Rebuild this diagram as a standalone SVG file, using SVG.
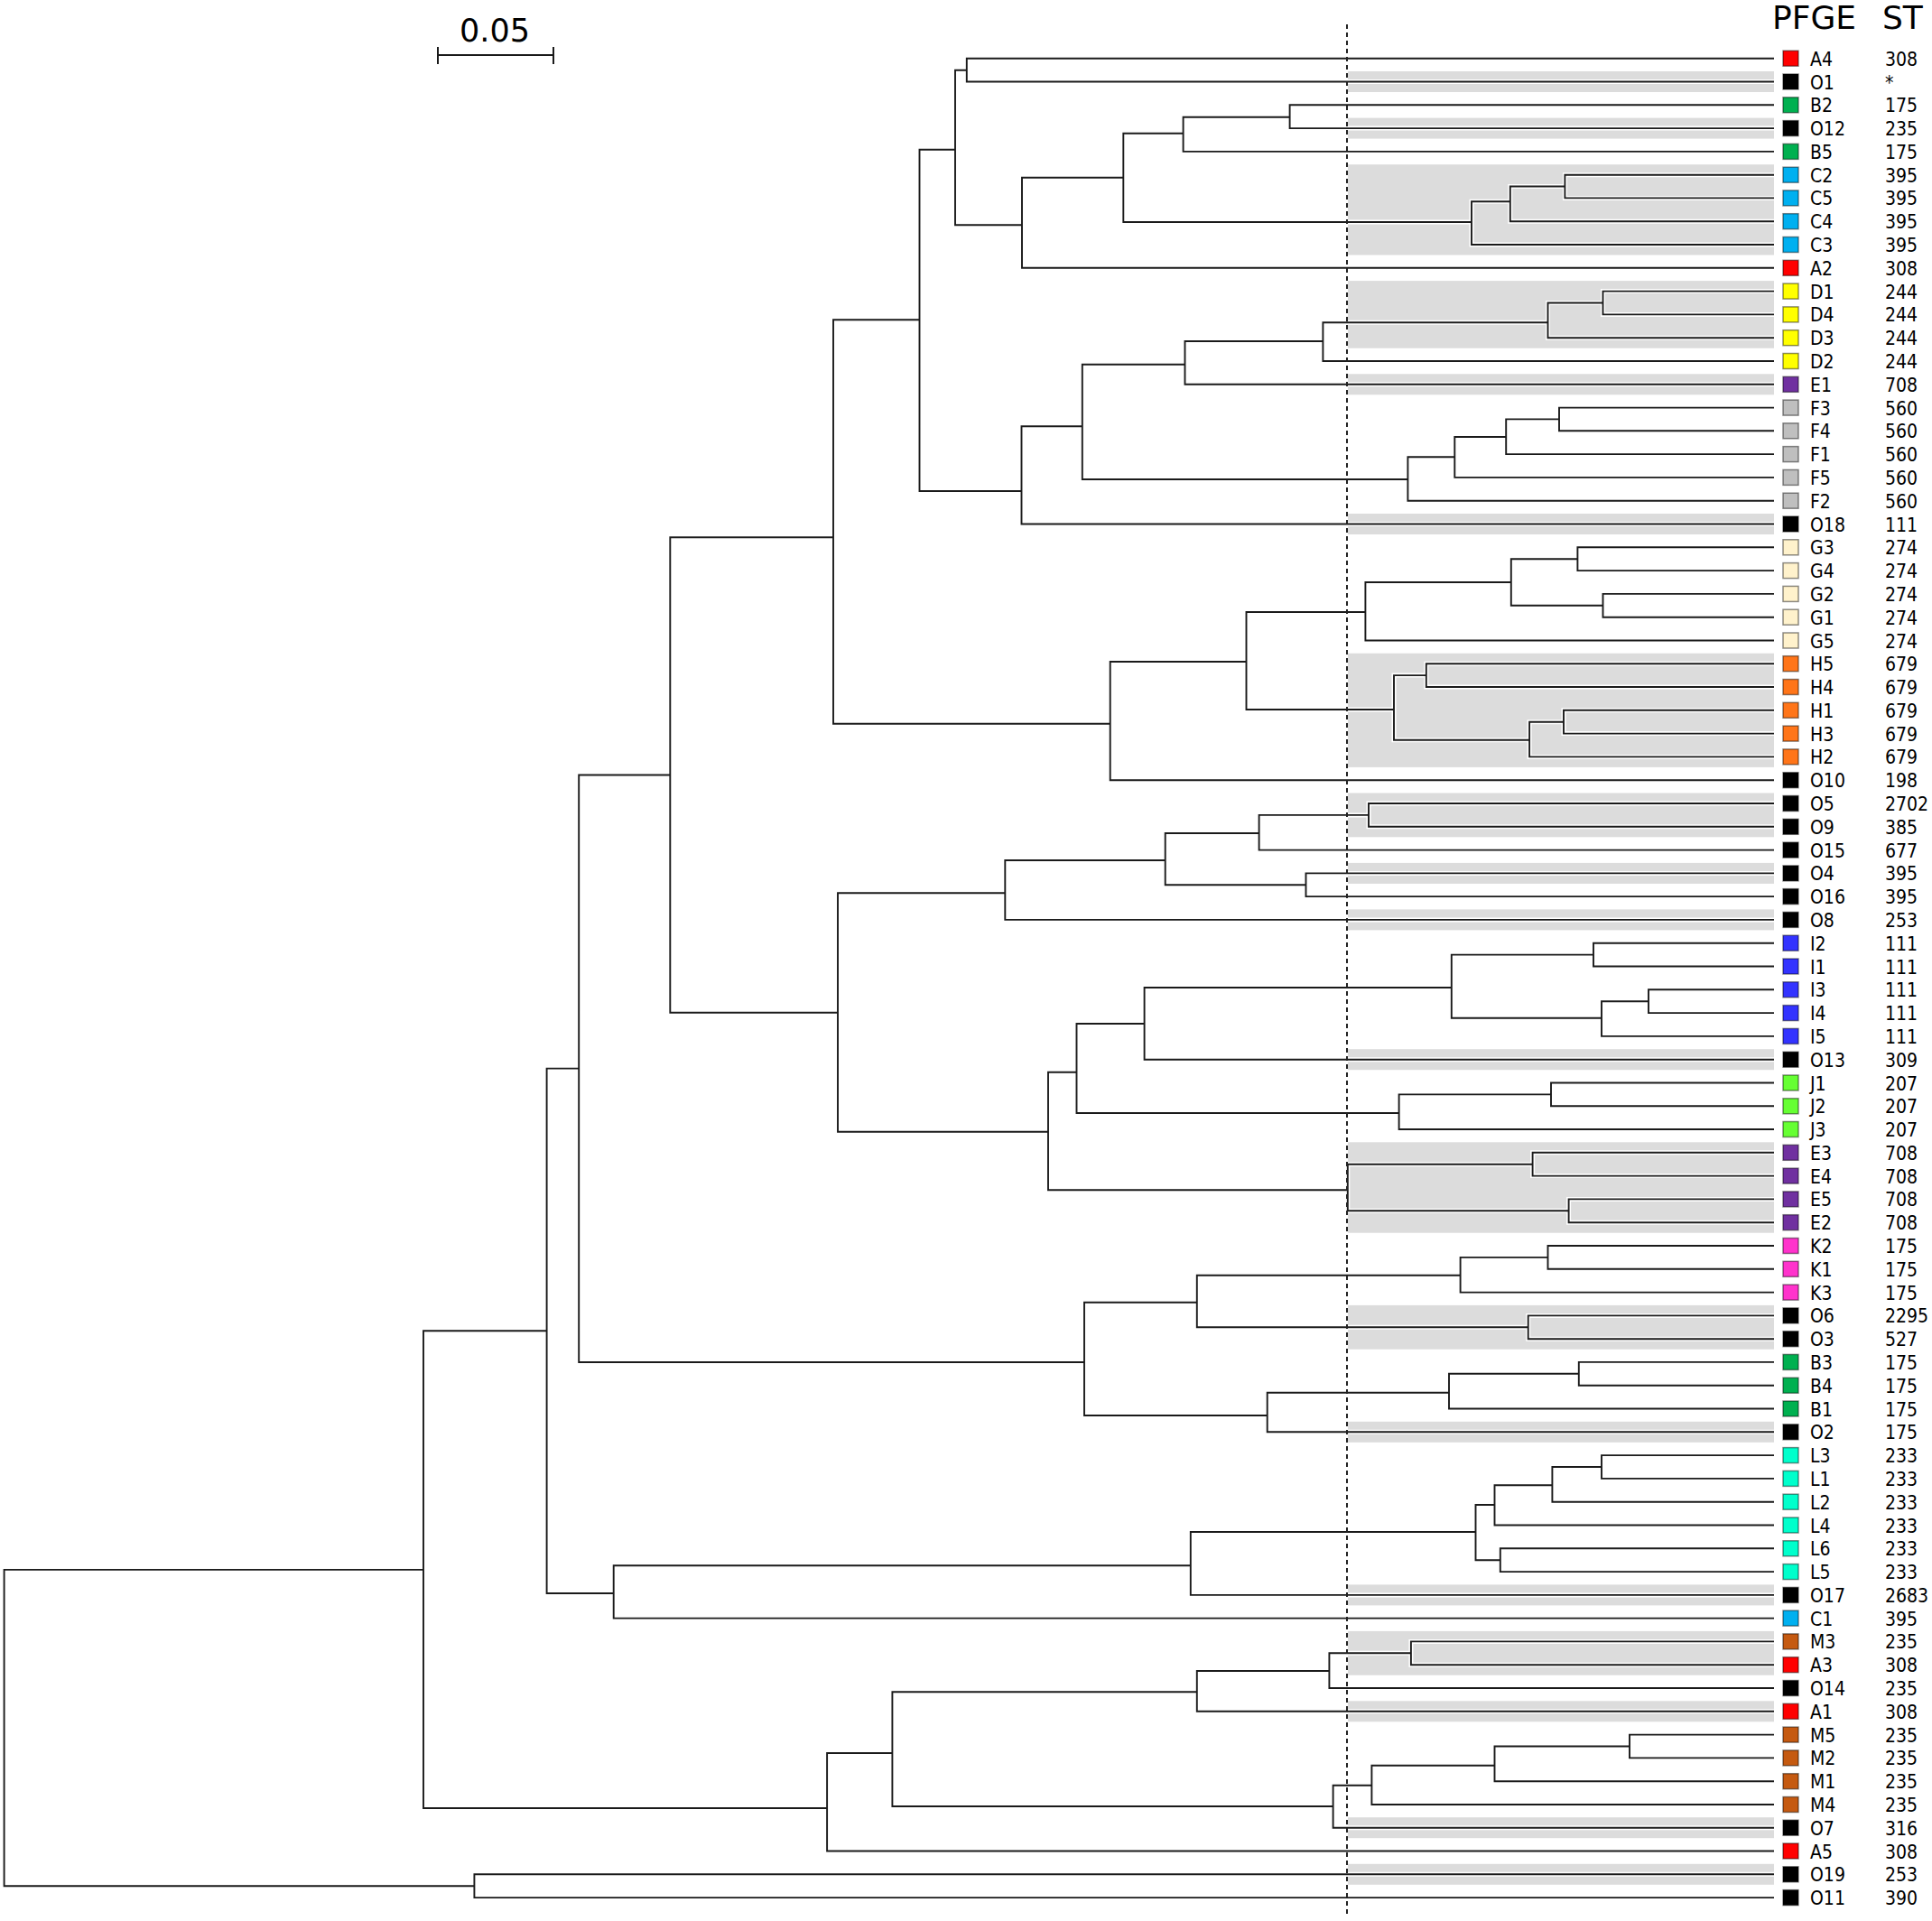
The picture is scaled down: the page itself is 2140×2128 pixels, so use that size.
<svg xmlns="http://www.w3.org/2000/svg" width="2140" height="2128" viewBox="0 0 2140 2128">
<style>
.bg{fill:#ffffff}
.band{fill:#dcdcdc}
.halo path{fill:none;stroke:#ffffff;stroke-width:5}
.tree path{fill:none;stroke:#1a1a1a;stroke-width:1.9}
.dot{fill:none;stroke:#222;stroke-width:2;stroke-dasharray:5 4}
.sq{stroke:#000;stroke-opacity:0.45;stroke-width:1.5}
.lb{font-family:"DejaVu Sans Condensed","DejaVu Sans",sans-serif;font-stretch:condensed;font-size:21px;fill:#000}
.hd{font-family:"DejaVu Sans",sans-serif;font-size:36px;fill:#000}
.sc{font-family:"DejaVu Sans",sans-serif;font-size:35px;fill:#000}
.cA{fill:#ff0000}.cO{fill:#000000}.cB{fill:#00b050}.cC{fill:#00b0f0}.cD{fill:#ffff00}.cE{fill:#7030a0}.cF{fill:#bfbfbf}.cG{fill:#fff2cc}.cH{fill:#ff7519}.cI{fill:#3333ff}.cJ{fill:#66ff33}.cK{fill:#ff33cc}.cL{fill:#00ffcc}.cM{fill:#c55a11}
</style>
<defs>
<g id="dummy"/>
</defs>
<rect class="bg" x="0" y="0" width="2140" height="2128"/>
<g id="scale-bar">
<text class="sc" x="548" y="45.7" text-anchor="middle">0.05</text>
<path d="M485,61 H613 M485,52 V71 M613,52 V71" fill="none" stroke="#1a1a1a" stroke-width="2"/>
</g>
<g id="headers">
<text class="hd" x="1963" y="32.3">PFGE</text>
<text class="hd" x="2085" y="32.3">ST</text>
</g>
<g id="bands">
<rect class="band" x="1493" y="79" width="472" height="23"/>
<rect class="band" x="1493" y="130.6" width="472" height="23"/>
<rect class="band" x="1493" y="182.2" width="472" height="100.3"/>
<rect class="band" x="1493" y="311.1" width="472" height="74.6"/>
<rect class="band" x="1493" y="414.3" width="472" height="23"/>
<rect class="band" x="1493" y="569" width="472" height="23"/>
<rect class="band" x="1493" y="723.7" width="472" height="126.2"/>
<rect class="band" x="1493" y="878.5" width="472" height="48.8"/>
<rect class="band" x="1493" y="955.9" width="472" height="23"/>
<rect class="band" x="1493" y="1007.4" width="472" height="23"/>
<rect class="band" x="1493" y="1162.2" width="472" height="23"/>
<rect class="band" x="1493" y="1265.3" width="472" height="100.4"/>
<rect class="band" x="1493" y="1445.9" width="472" height="48.8"/>
<rect class="band" x="1493" y="1574.8" width="472" height="23"/>
<rect class="band" x="1493" y="1755.4" width="472" height="23"/>
<rect class="band" x="1493" y="1806.9" width="472" height="48.8"/>
<rect class="band" x="1493" y="1884.3" width="472" height="23"/>
<rect class="band" x="1493" y="2013.2" width="472" height="23"/>
<rect class="band" x="1493" y="2064.8" width="472" height="23"/>
</g>
<g id="connectors">
<g class="halo" id="tree-halo">
<path id="hp" d="M469,1738.9 H4.6 V2089.2 H525.4 M605.6,1474.3 H469 V2003 H916.1 M1965,2076.3 H525.4 V2102.1 H1965 M641.2,1183.6 H605.6 V1765 H679.7 M742.3,858.5 H641.2 V1509 H1201 M923,595.3 H742.3 V1121.7 H928 M1018.5,354.3 H923 V801.7 H1229.7 M1058,165.7 H1018.5 V544 H1131.5 M1070.8,77.7 H1058 V249.3 H1132 M1965,64.7 H1070.8 V90.5 H1965 M1244.3,196.7 H1132 V296.8 H1965 M1310.6,147.7 H1244.3 V246 H1630 M1428.6,129.7 H1310.6 V167.9 H1965 M1965,116.3 H1428.6 V142.1 H1965 M1672.8,223.3 H1630 V271 H1965 M1733.4,206.5 H1672.8 V245.2 H1965 M1965,193.7 H1733.4 V219.4 H1965 M1198.8,472.3 H1131.5 V580.5 H1965 M1312.5,403.7 H1198.8 V531 H1559.4 M1465.4,378 H1312.5 V425.8 H1965 M1714.5,357.3 H1465.4 V400 H1965 M1775.5,335.5 H1714.5 V374.2 H1965 M1965,322.6 H1775.5 V348.4 H1965 M1611.3,506.3 H1559.4 V554.7 H1965 M1668.2,484 H1611.3 V528.9 H1965 M1727,464.4 H1668.2 V503.1 H1965 M1965,451.6 H1727 V477.3 H1965 M1380.5,733 H1229.7 V864.2 H1965 M1512.4,678 H1380.5 V786 H1544 M1673.8,645 H1512.4 V709.5 H1965 M1747.4,619.2 H1673.8 V670.8 H1775.5 M1965,606.3 H1747.4 V632.1 H1965 M1965,657.9 H1775.5 V683.7 H1965 M1579.8,748.1 H1544 V819.7 H1694.1 M1965,735.2 H1579.8 V761 H1965 M1732,799.7 H1694.1 V838.4 H1965 M1965,786.8 H1732 V812.6 H1965 M1113.3,989.3 H928 V1253.7 H1161 M1290.7,953 H1113.3 V1018.9 H1965 M1394.6,923 H1290.7 V980.3 H1446.5 M1516,902.9 H1394.6 V941.6 H1965 M1965,890 H1516 V915.8 H1965 M1965,967.4 H1446.5 V993.1 H1965 M1192.5,1187.7 H1161 V1318.3 H1492.8 M1267.6,1134 H1192.5 V1233 H1549.6 M1607.8,1094 H1267.6 V1173.7 H1965 M1765,1057.6 H1607.8 V1127.7 H1774 M1965,1044.7 H1765 V1070.5 H1965 M1826,1109.2 H1774 V1147.9 H1965 M1965,1096.3 H1826 V1122.1 H1965 M1718,1212.4 H1549.6 V1251 H1965 M1965,1199.5 H1718 V1225.3 H1965 M1697.6,1289.7 H1492.8 V1341.3 H1737.6 M1965,1276.8 H1697.6 V1302.6 H1965 M1965,1328.4 H1737.6 V1354.2 H1965 M1325.8,1442.7 H1201 V1568 H1403.7 M1617.6,1412.7 H1325.8 V1470.3 H1692.7 M1714.5,1392.9 H1617.6 V1431.6 H1965 M1965,1380 H1714.5 V1405.8 H1965 M1965,1457.4 H1692.7 V1483.2 H1965 M1605,1542.7 H1403.7 V1586.3 H1965 M1748.8,1521.8 H1605 V1560.5 H1965 M1965,1508.9 H1748.8 V1534.7 H1965 M1318.8,1734.3 H679.7 V1792.6 H1965 M1634.5,1697 H1318.8 V1766.9 H1965 M1655.5,1667 H1634.5 V1728.2 H1661.8 M1719.4,1645.3 H1655.5 V1689.5 H1965 M1774,1625 H1719.4 V1663.7 H1965 M1965,1612.1 H1774 V1637.9 H1965 M1965,1715.3 H1661.8 V1741.1 H1965 M988.4,1942 H916.1 V2050.5 H1965 M1325.8,1874.3 H988.4 V2001 H1476.6 M1472.4,1851 H1325.8 V1895.8 H1965 M1562.9,1831.3 H1472.4 V1870 H1965 M1965,1818.4 H1562.9 V1844.2 H1965 M1519.4,1977.7 H1476.6 V2024.7 H1965 M1655.5,1955.7 H1519.4 V1999 H1965 M1805,1934.5 H1655.5 V1973.2 H1965 M1965,1921.6 H1805 V1947.4 H1965"/>
</g>
<g class="tree" id="tree-lines">
<path d="M469,1738.9 H4.6 V2089.2 H525.4 M605.6,1474.3 H469 V2003 H916.1 M1965,2076.3 H525.4 V2102.1 H1965 M641.2,1183.6 H605.6 V1765 H679.7 M742.3,858.5 H641.2 V1509 H1201 M923,595.3 H742.3 V1121.7 H928 M1018.5,354.3 H923 V801.7 H1229.7 M1058,165.7 H1018.5 V544 H1131.5 M1070.8,77.7 H1058 V249.3 H1132 M1965,64.7 H1070.8 V90.5 H1965 M1244.3,196.7 H1132 V296.8 H1965 M1310.6,147.7 H1244.3 V246 H1630 M1428.6,129.7 H1310.6 V167.9 H1965 M1965,116.3 H1428.6 V142.1 H1965 M1672.8,223.3 H1630 V271 H1965 M1733.4,206.5 H1672.8 V245.2 H1965 M1965,193.7 H1733.4 V219.4 H1965 M1198.8,472.3 H1131.5 V580.5 H1965 M1312.5,403.7 H1198.8 V531 H1559.4 M1465.4,378 H1312.5 V425.8 H1965 M1714.5,357.3 H1465.4 V400 H1965 M1775.5,335.5 H1714.5 V374.2 H1965 M1965,322.6 H1775.5 V348.4 H1965 M1611.3,506.3 H1559.4 V554.7 H1965 M1668.2,484 H1611.3 V528.9 H1965 M1727,464.4 H1668.2 V503.1 H1965 M1965,451.6 H1727 V477.3 H1965 M1380.5,733 H1229.7 V864.2 H1965 M1512.4,678 H1380.5 V786 H1544 M1673.8,645 H1512.4 V709.5 H1965 M1747.4,619.2 H1673.8 V670.8 H1775.5 M1965,606.3 H1747.4 V632.1 H1965 M1965,657.9 H1775.5 V683.7 H1965 M1579.8,748.1 H1544 V819.7 H1694.1 M1965,735.2 H1579.8 V761 H1965 M1732,799.7 H1694.1 V838.4 H1965 M1965,786.8 H1732 V812.6 H1965 M1113.3,989.3 H928 V1253.7 H1161 M1290.7,953 H1113.3 V1018.9 H1965 M1394.6,923 H1290.7 V980.3 H1446.5 M1516,902.9 H1394.6 V941.6 H1965 M1965,890 H1516 V915.8 H1965 M1965,967.4 H1446.5 V993.1 H1965 M1192.5,1187.7 H1161 V1318.3 H1492.8 M1267.6,1134 H1192.5 V1233 H1549.6 M1607.8,1094 H1267.6 V1173.7 H1965 M1765,1057.6 H1607.8 V1127.7 H1774 M1965,1044.7 H1765 V1070.5 H1965 M1826,1109.2 H1774 V1147.9 H1965 M1965,1096.3 H1826 V1122.1 H1965 M1718,1212.4 H1549.6 V1251 H1965 M1965,1199.5 H1718 V1225.3 H1965 M1697.6,1289.7 H1492.8 V1341.3 H1737.6 M1965,1276.8 H1697.6 V1302.6 H1965 M1965,1328.4 H1737.6 V1354.2 H1965 M1325.8,1442.7 H1201 V1568 H1403.7 M1617.6,1412.7 H1325.8 V1470.3 H1692.7 M1714.5,1392.9 H1617.6 V1431.6 H1965 M1965,1380 H1714.5 V1405.8 H1965 M1965,1457.4 H1692.7 V1483.2 H1965 M1605,1542.7 H1403.7 V1586.3 H1965 M1748.8,1521.8 H1605 V1560.5 H1965 M1965,1508.9 H1748.8 V1534.7 H1965 M1318.8,1734.3 H679.7 V1792.6 H1965 M1634.5,1697 H1318.8 V1766.9 H1965 M1655.5,1667 H1634.5 V1728.2 H1661.8 M1719.4,1645.3 H1655.5 V1689.5 H1965 M1774,1625 H1719.4 V1663.7 H1965 M1965,1612.1 H1774 V1637.9 H1965 M1965,1715.3 H1661.8 V1741.1 H1965 M988.4,1942 H916.1 V2050.5 H1965 M1325.8,1874.3 H988.4 V2001 H1476.6 M1472.4,1851 H1325.8 V1895.8 H1965 M1562.9,1831.3 H1472.4 V1870 H1965 M1965,1818.4 H1562.9 V1844.2 H1965 M1519.4,1977.7 H1476.6 V2024.7 H1965 M1655.5,1955.7 H1519.4 V1999 H1965 M1805,1934.5 H1655.5 V1973.2 H1965 M1965,1921.6 H1805 V1947.4 H1965"/>
</g>
<path class="dot" id="cutoff" d="M1492,27 V2124"/>
</g>
<g id="leaves">
<g id="leaf-A4" transform="translate(0,64.7)"><rect class="sq cA" x="1975" y="-8.5" width="17" height="17"/><text class="lb" x="2005" y="8">A4</text><text class="lb" x="2088" y="8">308</text></g>
<g id="leaf-O1" transform="translate(0,90.5)"><rect class="sq cO" x="1975" y="-8.5" width="17" height="17"/><text class="lb" x="2005" y="8">O1</text><text class="lb" x="2088" y="8">*</text></g>
<g id="leaf-B2" transform="translate(0,116.3)"><rect class="sq cB" x="1975" y="-8.5" width="17" height="17"/><text class="lb" x="2005" y="8">B2</text><text class="lb" x="2088" y="8">175</text></g>
<g id="leaf-O12" transform="translate(0,142.1)"><rect class="sq cO" x="1975" y="-8.5" width="17" height="17"/><text class="lb" x="2005" y="8">O12</text><text class="lb" x="2088" y="8">235</text></g>
<g id="leaf-B5" transform="translate(0,167.9)"><rect class="sq cB" x="1975" y="-8.5" width="17" height="17"/><text class="lb" x="2005" y="8">B5</text><text class="lb" x="2088" y="8">175</text></g>
<g id="leaf-C2" transform="translate(0,193.7)"><rect class="sq cC" x="1975" y="-8.5" width="17" height="17"/><text class="lb" x="2005" y="8">C2</text><text class="lb" x="2088" y="8">395</text></g>
<g id="leaf-C5" transform="translate(0,219.4)"><rect class="sq cC" x="1975" y="-8.5" width="17" height="17"/><text class="lb" x="2005" y="8">C5</text><text class="lb" x="2088" y="8">395</text></g>
<g id="leaf-C4" transform="translate(0,245.2)"><rect class="sq cC" x="1975" y="-8.5" width="17" height="17"/><text class="lb" x="2005" y="8">C4</text><text class="lb" x="2088" y="8">395</text></g>
<g id="leaf-C3" transform="translate(0,271)"><rect class="sq cC" x="1975" y="-8.5" width="17" height="17"/><text class="lb" x="2005" y="8">C3</text><text class="lb" x="2088" y="8">395</text></g>
<g id="leaf-A2" transform="translate(0,296.8)"><rect class="sq cA" x="1975" y="-8.5" width="17" height="17"/><text class="lb" x="2005" y="8">A2</text><text class="lb" x="2088" y="8">308</text></g>
<g id="leaf-D1" transform="translate(0,322.6)"><rect class="sq cD" x="1975" y="-8.5" width="17" height="17"/><text class="lb" x="2005" y="8">D1</text><text class="lb" x="2088" y="8">244</text></g>
<g id="leaf-D4" transform="translate(0,348.4)"><rect class="sq cD" x="1975" y="-8.5" width="17" height="17"/><text class="lb" x="2005" y="8">D4</text><text class="lb" x="2088" y="8">244</text></g>
<g id="leaf-D3" transform="translate(0,374.2)"><rect class="sq cD" x="1975" y="-8.5" width="17" height="17"/><text class="lb" x="2005" y="8">D3</text><text class="lb" x="2088" y="8">244</text></g>
<g id="leaf-D2" transform="translate(0,400)"><rect class="sq cD" x="1975" y="-8.5" width="17" height="17"/><text class="lb" x="2005" y="8">D2</text><text class="lb" x="2088" y="8">244</text></g>
<g id="leaf-E1" transform="translate(0,425.8)"><rect class="sq cE" x="1975" y="-8.5" width="17" height="17"/><text class="lb" x="2005" y="8">E1</text><text class="lb" x="2088" y="8">708</text></g>
<g id="leaf-F3" transform="translate(0,451.6)"><rect class="sq cF" x="1975" y="-8.5" width="17" height="17"/><text class="lb" x="2005" y="8">F3</text><text class="lb" x="2088" y="8">560</text></g>
<g id="leaf-F4" transform="translate(0,477.3)"><rect class="sq cF" x="1975" y="-8.5" width="17" height="17"/><text class="lb" x="2005" y="8">F4</text><text class="lb" x="2088" y="8">560</text></g>
<g id="leaf-F1" transform="translate(0,503.1)"><rect class="sq cF" x="1975" y="-8.5" width="17" height="17"/><text class="lb" x="2005" y="8">F1</text><text class="lb" x="2088" y="8">560</text></g>
<g id="leaf-F5" transform="translate(0,528.9)"><rect class="sq cF" x="1975" y="-8.5" width="17" height="17"/><text class="lb" x="2005" y="8">F5</text><text class="lb" x="2088" y="8">560</text></g>
<g id="leaf-F2" transform="translate(0,554.7)"><rect class="sq cF" x="1975" y="-8.5" width="17" height="17"/><text class="lb" x="2005" y="8">F2</text><text class="lb" x="2088" y="8">560</text></g>
<g id="leaf-O18" transform="translate(0,580.5)"><rect class="sq cO" x="1975" y="-8.5" width="17" height="17"/><text class="lb" x="2005" y="8">O18</text><text class="lb" x="2088" y="8">111</text></g>
<g id="leaf-G3" transform="translate(0,606.3)"><rect class="sq cG" x="1975" y="-8.5" width="17" height="17"/><text class="lb" x="2005" y="8">G3</text><text class="lb" x="2088" y="8">274</text></g>
<g id="leaf-G4" transform="translate(0,632.1)"><rect class="sq cG" x="1975" y="-8.5" width="17" height="17"/><text class="lb" x="2005" y="8">G4</text><text class="lb" x="2088" y="8">274</text></g>
<g id="leaf-G2" transform="translate(0,657.9)"><rect class="sq cG" x="1975" y="-8.5" width="17" height="17"/><text class="lb" x="2005" y="8">G2</text><text class="lb" x="2088" y="8">274</text></g>
<g id="leaf-G1" transform="translate(0,683.7)"><rect class="sq cG" x="1975" y="-8.5" width="17" height="17"/><text class="lb" x="2005" y="8">G1</text><text class="lb" x="2088" y="8">274</text></g>
<g id="leaf-G5" transform="translate(0,709.5)"><rect class="sq cG" x="1975" y="-8.5" width="17" height="17"/><text class="lb" x="2005" y="8">G5</text><text class="lb" x="2088" y="8">274</text></g>
<g id="leaf-H5" transform="translate(0,735.2)"><rect class="sq cH" x="1975" y="-8.5" width="17" height="17"/><text class="lb" x="2005" y="8">H5</text><text class="lb" x="2088" y="8">679</text></g>
<g id="leaf-H4" transform="translate(0,761)"><rect class="sq cH" x="1975" y="-8.5" width="17" height="17"/><text class="lb" x="2005" y="8">H4</text><text class="lb" x="2088" y="8">679</text></g>
<g id="leaf-H1" transform="translate(0,786.8)"><rect class="sq cH" x="1975" y="-8.5" width="17" height="17"/><text class="lb" x="2005" y="8">H1</text><text class="lb" x="2088" y="8">679</text></g>
<g id="leaf-H3" transform="translate(0,812.6)"><rect class="sq cH" x="1975" y="-8.5" width="17" height="17"/><text class="lb" x="2005" y="8">H3</text><text class="lb" x="2088" y="8">679</text></g>
<g id="leaf-H2" transform="translate(0,838.4)"><rect class="sq cH" x="1975" y="-8.5" width="17" height="17"/><text class="lb" x="2005" y="8">H2</text><text class="lb" x="2088" y="8">679</text></g>
<g id="leaf-O10" transform="translate(0,864.2)"><rect class="sq cO" x="1975" y="-8.5" width="17" height="17"/><text class="lb" x="2005" y="8">O10</text><text class="lb" x="2088" y="8">198</text></g>
<g id="leaf-O5" transform="translate(0,890)"><rect class="sq cO" x="1975" y="-8.5" width="17" height="17"/><text class="lb" x="2005" y="8">O5</text><text class="lb" x="2088" y="8">2702</text></g>
<g id="leaf-O9" transform="translate(0,915.8)"><rect class="sq cO" x="1975" y="-8.5" width="17" height="17"/><text class="lb" x="2005" y="8">O9</text><text class="lb" x="2088" y="8">385</text></g>
<g id="leaf-O15" transform="translate(0,941.6)"><rect class="sq cO" x="1975" y="-8.5" width="17" height="17"/><text class="lb" x="2005" y="8">O15</text><text class="lb" x="2088" y="8">677</text></g>
<g id="leaf-O4" transform="translate(0,967.4)"><rect class="sq cO" x="1975" y="-8.5" width="17" height="17"/><text class="lb" x="2005" y="8">O4</text><text class="lb" x="2088" y="8">395</text></g>
<g id="leaf-O16" transform="translate(0,993.1)"><rect class="sq cO" x="1975" y="-8.5" width="17" height="17"/><text class="lb" x="2005" y="8">O16</text><text class="lb" x="2088" y="8">395</text></g>
<g id="leaf-O8" transform="translate(0,1018.9)"><rect class="sq cO" x="1975" y="-8.5" width="17" height="17"/><text class="lb" x="2005" y="8">O8</text><text class="lb" x="2088" y="8">253</text></g>
<g id="leaf-I2" transform="translate(0,1044.7)"><rect class="sq cI" x="1975" y="-8.5" width="17" height="17"/><text class="lb" x="2005" y="8">I2</text><text class="lb" x="2088" y="8">111</text></g>
<g id="leaf-I1" transform="translate(0,1070.5)"><rect class="sq cI" x="1975" y="-8.5" width="17" height="17"/><text class="lb" x="2005" y="8">I1</text><text class="lb" x="2088" y="8">111</text></g>
<g id="leaf-I3" transform="translate(0,1096.3)"><rect class="sq cI" x="1975" y="-8.5" width="17" height="17"/><text class="lb" x="2005" y="8">I3</text><text class="lb" x="2088" y="8">111</text></g>
<g id="leaf-I4" transform="translate(0,1122.1)"><rect class="sq cI" x="1975" y="-8.5" width="17" height="17"/><text class="lb" x="2005" y="8">I4</text><text class="lb" x="2088" y="8">111</text></g>
<g id="leaf-I5" transform="translate(0,1147.9)"><rect class="sq cI" x="1975" y="-8.5" width="17" height="17"/><text class="lb" x="2005" y="8">I5</text><text class="lb" x="2088" y="8">111</text></g>
<g id="leaf-O13" transform="translate(0,1173.7)"><rect class="sq cO" x="1975" y="-8.5" width="17" height="17"/><text class="lb" x="2005" y="8">O13</text><text class="lb" x="2088" y="8">309</text></g>
<g id="leaf-J1" transform="translate(0,1199.5)"><rect class="sq cJ" x="1975" y="-8.5" width="17" height="17"/><text class="lb" x="2005" y="8">J1</text><text class="lb" x="2088" y="8">207</text></g>
<g id="leaf-J2" transform="translate(0,1225.3)"><rect class="sq cJ" x="1975" y="-8.5" width="17" height="17"/><text class="lb" x="2005" y="8">J2</text><text class="lb" x="2088" y="8">207</text></g>
<g id="leaf-J3" transform="translate(0,1251)"><rect class="sq cJ" x="1975" y="-8.5" width="17" height="17"/><text class="lb" x="2005" y="8">J3</text><text class="lb" x="2088" y="8">207</text></g>
<g id="leaf-E3" transform="translate(0,1276.8)"><rect class="sq cE" x="1975" y="-8.5" width="17" height="17"/><text class="lb" x="2005" y="8">E3</text><text class="lb" x="2088" y="8">708</text></g>
<g id="leaf-E4" transform="translate(0,1302.6)"><rect class="sq cE" x="1975" y="-8.5" width="17" height="17"/><text class="lb" x="2005" y="8">E4</text><text class="lb" x="2088" y="8">708</text></g>
<g id="leaf-E5" transform="translate(0,1328.4)"><rect class="sq cE" x="1975" y="-8.5" width="17" height="17"/><text class="lb" x="2005" y="8">E5</text><text class="lb" x="2088" y="8">708</text></g>
<g id="leaf-E2" transform="translate(0,1354.2)"><rect class="sq cE" x="1975" y="-8.5" width="17" height="17"/><text class="lb" x="2005" y="8">E2</text><text class="lb" x="2088" y="8">708</text></g>
<g id="leaf-K2" transform="translate(0,1380)"><rect class="sq cK" x="1975" y="-8.5" width="17" height="17"/><text class="lb" x="2005" y="8">K2</text><text class="lb" x="2088" y="8">175</text></g>
<g id="leaf-K1" transform="translate(0,1405.8)"><rect class="sq cK" x="1975" y="-8.5" width="17" height="17"/><text class="lb" x="2005" y="8">K1</text><text class="lb" x="2088" y="8">175</text></g>
<g id="leaf-K3" transform="translate(0,1431.6)"><rect class="sq cK" x="1975" y="-8.5" width="17" height="17"/><text class="lb" x="2005" y="8">K3</text><text class="lb" x="2088" y="8">175</text></g>
<g id="leaf-O6" transform="translate(0,1457.4)"><rect class="sq cO" x="1975" y="-8.5" width="17" height="17"/><text class="lb" x="2005" y="8">O6</text><text class="lb" x="2088" y="8">2295</text></g>
<g id="leaf-O3" transform="translate(0,1483.2)"><rect class="sq cO" x="1975" y="-8.5" width="17" height="17"/><text class="lb" x="2005" y="8">O3</text><text class="lb" x="2088" y="8">527</text></g>
<g id="leaf-B3" transform="translate(0,1508.9)"><rect class="sq cB" x="1975" y="-8.5" width="17" height="17"/><text class="lb" x="2005" y="8">B3</text><text class="lb" x="2088" y="8">175</text></g>
<g id="leaf-B4" transform="translate(0,1534.7)"><rect class="sq cB" x="1975" y="-8.5" width="17" height="17"/><text class="lb" x="2005" y="8">B4</text><text class="lb" x="2088" y="8">175</text></g>
<g id="leaf-B1" transform="translate(0,1560.5)"><rect class="sq cB" x="1975" y="-8.5" width="17" height="17"/><text class="lb" x="2005" y="8">B1</text><text class="lb" x="2088" y="8">175</text></g>
<g id="leaf-O2" transform="translate(0,1586.3)"><rect class="sq cO" x="1975" y="-8.5" width="17" height="17"/><text class="lb" x="2005" y="8">O2</text><text class="lb" x="2088" y="8">175</text></g>
<g id="leaf-L3" transform="translate(0,1612.1)"><rect class="sq cL" x="1975" y="-8.5" width="17" height="17"/><text class="lb" x="2005" y="8">L3</text><text class="lb" x="2088" y="8">233</text></g>
<g id="leaf-L1" transform="translate(0,1637.9)"><rect class="sq cL" x="1975" y="-8.5" width="17" height="17"/><text class="lb" x="2005" y="8">L1</text><text class="lb" x="2088" y="8">233</text></g>
<g id="leaf-L2" transform="translate(0,1663.7)"><rect class="sq cL" x="1975" y="-8.5" width="17" height="17"/><text class="lb" x="2005" y="8">L2</text><text class="lb" x="2088" y="8">233</text></g>
<g id="leaf-L4" transform="translate(0,1689.5)"><rect class="sq cL" x="1975" y="-8.5" width="17" height="17"/><text class="lb" x="2005" y="8">L4</text><text class="lb" x="2088" y="8">233</text></g>
<g id="leaf-L6" transform="translate(0,1715.3)"><rect class="sq cL" x="1975" y="-8.5" width="17" height="17"/><text class="lb" x="2005" y="8">L6</text><text class="lb" x="2088" y="8">233</text></g>
<g id="leaf-L5" transform="translate(0,1741.1)"><rect class="sq cL" x="1975" y="-8.5" width="17" height="17"/><text class="lb" x="2005" y="8">L5</text><text class="lb" x="2088" y="8">233</text></g>
<g id="leaf-O17" transform="translate(0,1766.9)"><rect class="sq cO" x="1975" y="-8.5" width="17" height="17"/><text class="lb" x="2005" y="8">O17</text><text class="lb" x="2088" y="8">2683</text></g>
<g id="leaf-C1" transform="translate(0,1792.6)"><rect class="sq cC" x="1975" y="-8.5" width="17" height="17"/><text class="lb" x="2005" y="8">C1</text><text class="lb" x="2088" y="8">395</text></g>
<g id="leaf-M3" transform="translate(0,1818.4)"><rect class="sq cM" x="1975" y="-8.5" width="17" height="17"/><text class="lb" x="2005" y="8">M3</text><text class="lb" x="2088" y="8">235</text></g>
<g id="leaf-A3" transform="translate(0,1844.2)"><rect class="sq cA" x="1975" y="-8.5" width="17" height="17"/><text class="lb" x="2005" y="8">A3</text><text class="lb" x="2088" y="8">308</text></g>
<g id="leaf-O14" transform="translate(0,1870)"><rect class="sq cO" x="1975" y="-8.5" width="17" height="17"/><text class="lb" x="2005" y="8">O14</text><text class="lb" x="2088" y="8">235</text></g>
<g id="leaf-A1" transform="translate(0,1895.8)"><rect class="sq cA" x="1975" y="-8.5" width="17" height="17"/><text class="lb" x="2005" y="8">A1</text><text class="lb" x="2088" y="8">308</text></g>
<g id="leaf-M5" transform="translate(0,1921.6)"><rect class="sq cM" x="1975" y="-8.5" width="17" height="17"/><text class="lb" x="2005" y="8">M5</text><text class="lb" x="2088" y="8">235</text></g>
<g id="leaf-M2" transform="translate(0,1947.4)"><rect class="sq cM" x="1975" y="-8.5" width="17" height="17"/><text class="lb" x="2005" y="8">M2</text><text class="lb" x="2088" y="8">235</text></g>
<g id="leaf-M1" transform="translate(0,1973.2)"><rect class="sq cM" x="1975" y="-8.5" width="17" height="17"/><text class="lb" x="2005" y="8">M1</text><text class="lb" x="2088" y="8">235</text></g>
<g id="leaf-M4" transform="translate(0,1999)"><rect class="sq cM" x="1975" y="-8.5" width="17" height="17"/><text class="lb" x="2005" y="8">M4</text><text class="lb" x="2088" y="8">235</text></g>
<g id="leaf-O7" transform="translate(0,2024.7)"><rect class="sq cO" x="1975" y="-8.5" width="17" height="17"/><text class="lb" x="2005" y="8">O7</text><text class="lb" x="2088" y="8">316</text></g>
<g id="leaf-A5" transform="translate(0,2050.5)"><rect class="sq cA" x="1975" y="-8.5" width="17" height="17"/><text class="lb" x="2005" y="8">A5</text><text class="lb" x="2088" y="8">308</text></g>
<g id="leaf-O19" transform="translate(0,2076.3)"><rect class="sq cO" x="1975" y="-8.5" width="17" height="17"/><text class="lb" x="2005" y="8">O19</text><text class="lb" x="2088" y="8">253</text></g>
<g id="leaf-O11" transform="translate(0,2102.1)"><rect class="sq cO" x="1975" y="-8.5" width="17" height="17"/><text class="lb" x="2005" y="8">O11</text><text class="lb" x="2088" y="8">390</text></g>
</g>
</svg>
